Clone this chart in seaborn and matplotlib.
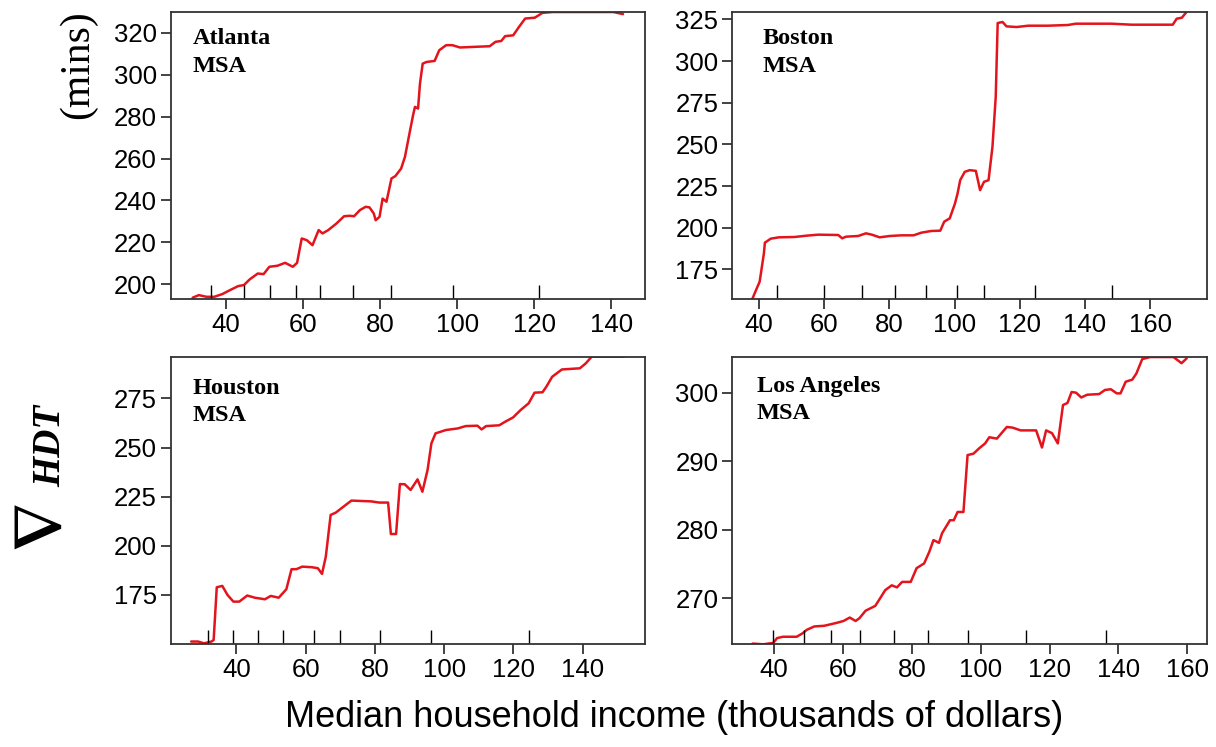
import numpy as np
import pandas as pd
import seaborn as sns
import matplotlib.pyplot as plt

# partial dependence curves (income in $1000s, minutes)
atl_x = [31.3, 32.9, 34.9, 36.9, 39.0, 41.0, 43.1, 44.6, 46.1, 48.2, 49.7, 51.2, 53.3, 55.3, 57.3,
         58.4, 59.6, 60.9, 62.4, 64.0, 65.0, 66.5, 68.6, 70.6, 72.1, 73.2, 74.7, 76.2, 77.2, 78.3,
         78.8, 79.8, 80.6, 81.6, 82.9, 83.9, 85.4, 86.4, 87.4, 88.5, 89.0, 89.8, 90.3, 91.0, 92.0,
         94.1, 95.3, 97.1, 98.7, 100.7, 104.3, 108.4, 109.9, 111.4, 112.4, 114.5, 116.0, 117.6,
         120.1, 122.1, 124.7, 134.9, 140.5, 143.0]
atl_y = [193.7, 194.9, 194.1, 194.1, 195.4, 197.3, 199.2, 199.7, 202.4, 205.2, 204.9, 208.4, 208.9,
         210.3, 208.4, 210.3, 221.9, 221.1, 218.7, 225.9, 224.3, 225.9, 229.0, 232.5, 232.7, 232.5,
         235.4, 237.0, 236.7, 233.8, 230.6, 232.2, 240.9, 239.4, 250.5, 251.6, 255.2, 260.8, 270.3,
         280.6, 284.6, 283.8, 295.7, 305.2, 306.0, 306.5, 311.6, 314.0, 314.0, 312.9, 313.2, 313.5,
         315.6, 316.0, 318.3, 318.7, 322.7, 326.7, 327.1, 329.4, 329.8, 329.8, 329.8, 328.8]
atl_rug = [36.0, 44.5, 51.4, 58.0, 64.4, 72.8, 82.7, 98.9, 121.2]

bos_x = [37.9, 39.1, 40.2, 41.5, 41.8, 43.6, 46.1, 50.9, 54.6, 58.2, 64.3, 65.5, 66.7, 70.4, 72.8,
         74.6, 77.0, 80.1, 83.7, 87.4, 89.8, 92.8, 95.6, 96.8, 98.5, 100.1, 100.9, 101.7, 103.1,
         104.6, 106.5, 107.8, 109.0, 110.4, 111.6, 112.6, 113.2, 114.7, 115.9, 119.0, 122.6, 128.6,
         134.7, 137.1, 148.1, 154.2, 166.9, 168.1, 169.7, 171.1]
bos_y = [157.0, 162.6, 167.6, 184.6, 191.0, 193.4, 194.2, 194.4, 195.2, 195.8, 195.6, 193.6, 194.6,
         195.0, 196.6, 195.8, 194.2, 195.0, 195.4, 195.4, 197.0, 198.0, 198.2, 203.6, 205.6, 214.5,
         220.5, 228.5, 233.5, 234.5, 234.1, 222.5, 227.5, 228.5, 248.5, 278.4, 322.8, 323.4, 320.8,
         320.4, 321.2, 321.2, 321.6, 322.4, 322.4, 321.8, 321.8, 325.4, 326.0, 329.4]
bos_rug = [45.4, 59.9, 71.5, 81.7, 91.2, 100.6, 109.0, 124.7, 148.2]

hou_x = [26.9, 28.9, 30.6, 32.8, 33.4, 34.3, 35.9, 37.4, 39.1, 40.8, 43.1, 45.3, 48.2, 49.9, 52.2,
         54.4, 55.9, 57.3, 59.0, 61.8, 63.5, 64.7, 65.8, 67.2, 68.7, 70.9, 73.2, 78.9, 81.2, 83.8,
         84.6, 86.1, 87.2, 88.6, 90.3, 92.3, 93.7, 95.2, 96.3, 97.5, 100.5, 103.9, 106.2, 109.6,
         110.8, 112.1, 115.9, 117.6, 119.9, 122.1, 124.4, 126.1, 128.4, 129.5, 131.2, 134.0, 139.2,
         140.9, 142.6, 152.0]
hou_y = [151.3, 151.3, 150.4, 151.3, 152.1, 178.9, 179.6, 175.0, 171.6, 171.6, 174.7, 173.6, 172.8,
         174.5, 173.6, 177.9, 188.1, 188.1, 189.4, 189.1, 188.6, 185.7, 194.5, 215.7, 216.9, 219.9,
         223.0, 222.6, 222.0, 222.0, 206.0, 206.0, 231.4, 231.3, 228.4, 233.8, 227.5, 238.6, 252.1,
         257.2, 258.9, 259.7, 260.9, 261.1, 259.2, 260.9, 261.3, 263.1, 265.3, 269.1, 272.5, 277.9,
         278.1, 280.9, 286.0, 289.7, 290.3, 292.8, 296.2, 296.2]
hou_rug = [31.8, 39.0, 46.2, 53.4, 62.3, 70.0, 81.5, 96.3, 124.6]

la_x = [33.8, 36.9, 39.8, 40.9, 42.6, 46.6, 48.3, 49.5, 51.7, 54.6, 58.0, 60.2, 62.0, 63.7, 64.8,
        66.6, 69.4, 70.8, 72.3, 74.2, 75.7, 77.2, 79.7, 81.4, 83.6, 85.1, 86.3, 87.9, 88.8, 91.1,
        92.2, 93.3, 95.0, 96.2, 97.9, 99.6, 101.3, 102.5, 104.7, 107.6, 109.3, 111.6, 116.1, 117.8,
        119.0, 120.7, 122.4, 123.9, 125.2, 126.4, 127.7, 129.2, 130.9, 134.4, 136.1, 137.8, 139.5,
        140.6, 142.1, 144.0, 145.2, 146.9, 149.2, 156.0, 158.3, 159.8]
la_y = [263.4, 263.3, 263.5, 264.2, 264.4, 264.4, 264.9, 265.4, 265.9, 266.0, 266.4, 266.7, 267.2,
        266.7, 267.1, 268.2, 268.9, 270.0, 271.2, 271.9, 271.6, 272.4, 272.4, 274.4, 275.1, 276.8,
        278.5, 278.1, 279.5, 281.4, 281.4, 282.6, 282.6, 290.9, 291.1, 291.9, 292.6, 293.5, 293.3,
        295.0, 294.9, 294.5, 294.5, 292.0, 294.5, 294.1, 292.6, 298.2, 298.5, 300.1, 300.0, 299.3,
        299.7, 299.8, 300.4, 300.5, 299.9, 299.9, 301.6, 301.9, 302.8, 304.9, 305.2, 305.2, 304.3,
        305.0]
la_rug = [39.8, 48.7, 56.5, 65.0, 74.9, 84.6, 96.2, 113.2, 136.3]

panels = [
    ("Atlanta", atl_x, atl_y, atl_rug, (25.6, 148.7), (192.9, 329.8), np.arange(200, 321, 20), np.arange(40, 141, 20)),
    ("Boston", bos_x, bos_y, bos_rug, (31.8, 177.4), (157.0, 329.4), np.arange(175, 326, 25), np.arange(40, 161, 20)),
    ("Houston", hou_x, hou_y, hou_rug, (21.0, 158.0), (149.9, 296.2), np.arange(175, 276, 25), np.arange(40, 141, 20)),
    ("Los Angeles", la_x, la_y, la_rug, (27.9, 165.7), (263.3, 305.25), np.arange(270, 301, 10), np.arange(40, 161, 20)),
]
boxes = [
    [0.1404, 0.5993, 0.3900, 0.3846],
    [0.6022, 0.5993, 0.3904, 0.3846],
    [0.1404, 0.1375, 0.3900, 0.3850],
    [0.6022, 0.1375, 0.3904, 0.3850],
]
label_pos = [(0.046, 0.944), (0.063, 0.944), (0.046, 0.927), (0.052, 0.933)]

sns.set_style("white")
plt.rcParams['font.family'] = ['Liberation Sans', 'DejaVu Sans']
plt.rcParams['text.color'] = 'black'
plt.rcParams['xtick.color'] = 'black'
plt.rcParams['ytick.color'] = 'black'

fig = plt.figure(figsize=(12.16, 7.47), dpi=100)

for (name, xs, ys, rug, xl, yl, yt, xt), box, lp in zip(panels, boxes, label_pos):
    ax = fig.add_axes(box)
    df = pd.DataFrame({'income': xs, 'hdt': ys})
    sns.lineplot(data=df, x='income', y='hdt', ax=ax, color='#e3141c', lw=1.8,
                 estimator=None, sort=False)
    sns.rugplot(x=rug, ax=ax, height=0.05, color='black', lw=2.0)
    ax.set_xlim(*xl)
    ax.set_ylim(*yl)
    ax.set_xticks(xt)
    ax.set_yticks(yt)
    ax.set_xlabel('')
    ax.set_ylabel('')
    ax.tick_params(axis='both', direction='out', length=7, width=1.2, color='#222222',
                   labelcolor='black', labelsize=18.5, pad=3, bottom=True, left=True)
    for sp in ax.spines.values():
        sp.set_color('#333333')
        sp.set_linewidth(1.3)
    ax.text(lp[0], lp[1], name + "\nMSA", transform=ax.transAxes, ha='left', va='top',
            family='Liberation Serif', fontweight='bold', fontsize=17.5, linespacing=1.4,
            color='black')

fig.text(0.064, 0.913, "(mins)", rotation=90, ha='center', va='center',
         family='Liberation Serif', fontsize=30, color='black')
fig.text(0.036, 0.295, r"$\mathbf{\nabla}$", rotation=90, ha='center', va='center',
         math_fontfamily='stix', fontsize=50, color='black')
fig.text(0.042, 0.403, "HDT", rotation=90, ha='center', va='center',
         family='Liberation Serif', fontweight='bold', style='italic', fontsize=28,
         color='black')
fig.text(0.554, 0.039, "Median household income (thousands of dollars)", ha='center', va='center',
         fontsize=26, color='black')

fig.savefig('out.png', dpi=100)
